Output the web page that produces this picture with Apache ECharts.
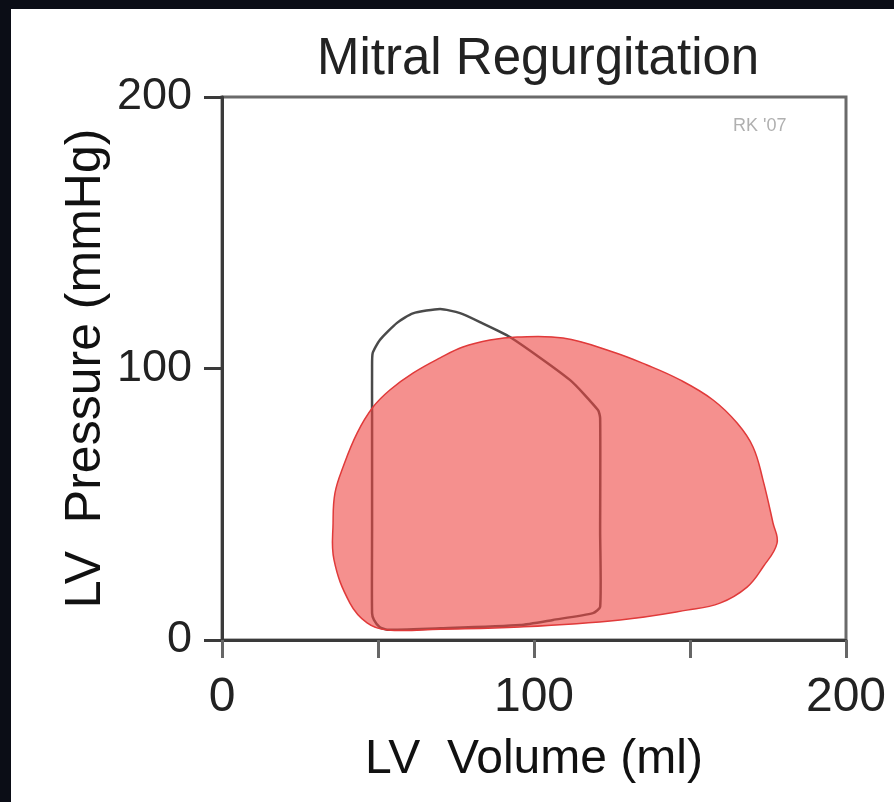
<!DOCTYPE html>
<html>
<head>
<meta charset="utf-8">
<script src="https://cdn.jsdelivr.net/npm/echarts@6/dist/echarts.min.js"></script>
<style>
  html, body { margin: 0; padding: 0; background: #0b0d16; }
  #chart { width: 894px; height: 802px; }
</style>
</head>
<body>
<div id="chart"></div>
<script>
// pressure-volume loop, mitral regurgitation (red) vs normal (gray)
var mrVolume = [35.6, 36.2, 38.8, 43.3, 48.4, 53.8, 61.2, 69.9, 77.2, 85.9, 94.6, 109.3, 125.3, 136.2, 146.8, 157.4, 165.1, 170.2, 173.4, 176.6, 177.9, 173.4, 168.3, 159.6, 149.0, 127.6, 95.5, 70.0, 52.9, 46.5, 41.0, 35.9];
var mrPressure = [43.1, 54.1, 63.7, 76.2, 85.8, 92.1, 98.3, 103.9, 107.9, 110.5, 111.6, 111.2, 106.1, 101.3, 95.8, 88.4, 79.9, 71.1, 58.9, 43.1, 35.7, 26.9, 19.5, 13.6, 11.0, 7.4, 4.8, 4.0, 3.7, 6.3, 13.6, 29.5];

var normalVolume = [48.1, 48.1, 48.1, 48.1, 48.3, 50.6, 56.1, 61.2, 69.9, 76.3, 82.7, 92.3, 111.5, 120.5, 121.2, 121.2, 121.2, 118.9, 106.1, 95.5, 70.0, 53.0, 50.5, 48.7];
var normalPressure = [9.9, 40.0, 83.6, 100.0, 105.7, 110.5, 116.8, 120.3, 121.9, 120.4, 117.1, 111.6, 95.8, 84.7, 81.8, 40.0, 12.2, 9.9, 7.4, 5.5, 4.3, 3.8, 4.8, 7.4];

var xTicks = [0, 100, 200];
var yTicks = [0, 100, 200];

var font = "'Liberation Sans', Arial, sans-serif";

function loopPoints(api, xs, ys) {
  var pts = [];
  for (var i = 0; i < xs.length; i++) {
    pts.push(api.coord([xs[i], ys[i]]));
  }
  return pts;
}

var chart = echarts.init(document.getElementById('chart'));

var option = {
  backgroundColor: '#0b0d16',
  animation: false,
  graphic: [
    {
      type: 'rect',
      z: -10,
      shape: { x: 11, y: 9, width: 883, height: 793 },
      style: { fill: '#ffffff' }
    },
    {
      type: 'text',
      left: 733,
      top: 117,
      z: 10,
      style: { text: "RK '07", fill: '#b0b0b0', font: "18px 'Liberation Sans', Arial, sans-serif" }
    }
  ],
  title: {
    text: 'Mitral Regurgitation',
    left: 312,
    top: 29,
    textStyle: { fontFamily: font, fontSize: 51, fontWeight: 'normal', color: '#222' }
  },
  grid: {
    left: 222,
    right: 48,
    top: 97,
    bottom: 162,
    show: true,
    borderColor: '#6a6a6a',
    borderWidth: 3,
    backgroundColor: 'transparent'
  },
  xAxis: {
    type: 'value',
    min: 0,
    max: 200,
    interval: 50,
    name: 'LV  Volume (ml)',
    nameLocation: 'middle',
    nameGap: 96,
    nameMoveOverlap: false,
    nameTextStyle: { fontFamily: font, fontSize: 48, color: '#111' },
    splitLine: { show: false },
    axisLine: { show: true, onZero: false, lineStyle: { color: '#3a3a3a', width: 3 } },
    axisTick: { show: true, length: 18, lineStyle: { color: '#666', width: 3 } },
    axisLabel: {
      margin: 34,
      fontFamily: font,
      fontSize: 48,
      color: '#222',
      formatter: function (v) { return xTicks.indexOf(v) >= 0 ? String(v) : ''; }
    }
  },
  yAxis: {
    type: 'value',
    min: 0,
    max: 200,
    interval: 100,
    name: 'LV  Pressure (mmHg)',
    nameLocation: 'middle',
    nameGap: 111,
    nameMoveOverlap: false,
    nameTextStyle: { fontFamily: font, fontSize: 50, color: '#111' },
    splitLine: { show: false },
    axisLine: { show: true, onZero: false, lineStyle: { color: '#3a3a3a', width: 3 } },
    axisTick: { show: true, length: 18, lineStyle: { color: '#3a3a3a', width: 3 } },
    axisLabel: {
      margin: 30,
      fontFamily: font,
      fontSize: 45,
      color: '#222',
      formatter: function (v) { return yTicks.indexOf(v) >= 0 ? String(v) : ''; }
    }
  },
  series: [
    {
      name: 'Normal',
      type: 'custom',
      z: 2,
      data: [[0, 0]],
      renderItem: function (params, api) {
        return {
          type: 'polygon',
          shape: { points: loopPoints(api, normalVolume, normalPressure), smooth: 0.2 },
          style: { fill: 'none', stroke: '#4a4a4a', lineWidth: 2.5 }
        };
      }
    },
    {
      name: 'MR',
      type: 'custom',
      z: 3,
      data: [[0, 0]],
      renderItem: function (params, api) {
        return {
          type: 'polygon',
          shape: { points: loopPoints(api, mrVolume, mrPressure), smooth: 0.4 },
          style: { fill: 'rgba(238,70,66,0.6)', stroke: '#e03a3a', lineWidth: 1.5 }
        };
      }
    }
  ]
};

chart.setOption(option);
</script>
</body>
</html>
